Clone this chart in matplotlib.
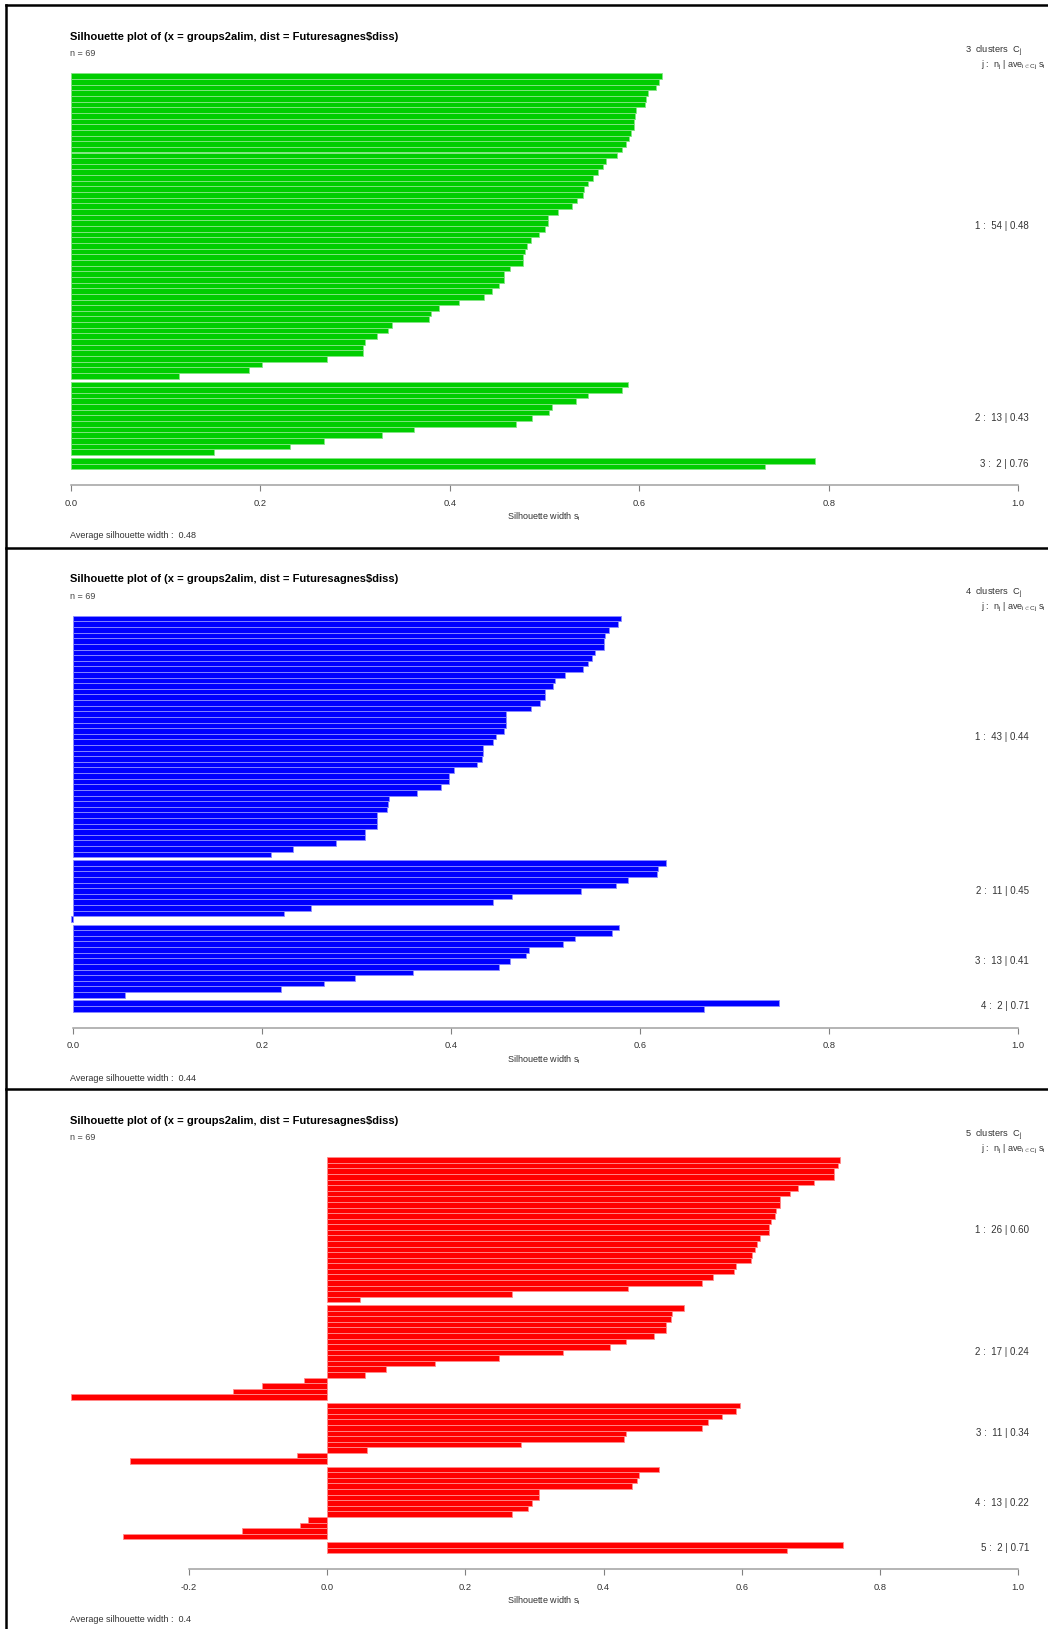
import numpy as np
import matplotlib
matplotlib.use("Agg")
import matplotlib.pyplot as plt
from matplotlib import transforms
from matplotlib.lines import Line2D

plt.rcParams['font.family'] = ['Liberation Sans', 'DejaVu Sans']
plt.rcParams['mathtext.fontset'] = 'custom'
plt.rcParams['mathtext.rm'] = 'Liberation Sans'
plt.rcParams['mathtext.it'] = 'Liberation Sans:italic'
plt.rcParams['mathtext.bf'] = 'Liberation Sans:bold'

# Silhouette widths per cluster, k = 3
k3_c1 = [0.624, 0.621, 0.618, 0.609, 0.607, 0.606, 0.597, 0.596, 0.595, 0.594,
         0.591, 0.589, 0.586, 0.582, 0.577, 0.565, 0.562, 0.556, 0.551, 0.546,
         0.542, 0.541, 0.534, 0.529, 0.514, 0.504, 0.504, 0.501, 0.494, 0.486,
         0.481, 0.479, 0.477, 0.477, 0.464, 0.457, 0.457, 0.452, 0.445, 0.436,
         0.410, 0.389, 0.380, 0.378, 0.339, 0.335, 0.323, 0.311, 0.308, 0.308,
         0.270, 0.202, 0.188, 0.114]
k3_c2 = [0.588, 0.582, 0.546, 0.533, 0.508, 0.505, 0.487, 0.470, 0.362, 0.328,
         0.267, 0.231, 0.151]
k3_c3 = [0.786, 0.733]

# k = 4
k4_c1 = [0.580, 0.577, 0.567, 0.563, 0.562, 0.562, 0.552, 0.549, 0.545, 0.540,
         0.521, 0.510, 0.508, 0.499, 0.499, 0.494, 0.485, 0.458, 0.458, 0.458,
         0.456, 0.448, 0.444, 0.434, 0.434, 0.433, 0.428, 0.403, 0.398, 0.398,
         0.390, 0.364, 0.334, 0.333, 0.332, 0.322, 0.322, 0.322, 0.309, 0.309,
         0.278, 0.233, 0.210]
k4_c2 = [0.627, 0.619, 0.618, 0.587, 0.575, 0.538, 0.465, 0.444, 0.252, 0.223,
         -0.002]
k4_c3 = [0.578, 0.570, 0.531, 0.519, 0.483, 0.479, 0.462, 0.451, 0.360, 0.299,
         0.266, 0.220, 0.055]
k4_c4 = [0.747, 0.668]

# k = 5
k5_c1 = [0.742, 0.740, 0.734, 0.733, 0.705, 0.681, 0.670, 0.656, 0.656, 0.650,
         0.648, 0.643, 0.639, 0.639, 0.626, 0.622, 0.619, 0.615, 0.614, 0.591,
         0.589, 0.559, 0.543, 0.435, 0.268, 0.047]
k5_c2 = [0.516, 0.499, 0.498, 0.490, 0.490, 0.473, 0.433, 0.409, 0.341, 0.248,
         0.156, 0.085, 0.054, -0.033, -0.094, -0.136, -0.371]
k5_c3 = [0.598, 0.591, 0.571, 0.551, 0.543, 0.433, 0.429, 0.281, 0.058, -0.044,
         -0.286]
k5_c4 = [0.480, 0.452, 0.449, 0.441, 0.307, 0.306, 0.297, 0.291, 0.267, -0.028,
         -0.040, -0.123, -0.295]
k5_c5 = [0.746, 0.666]

title = r"Silhouette plot of (x = groups2alim, dist = Futuresagnes\$diss)"

panels = [
    dict(clusters=[k3_c1, k3_c2, k3_c3], color='#00CD00', edge='#86e486', top=5.0),
    dict(clusters=[k4_c1, k4_c2, k4_c3, k4_c4], color='#0000FF', edge='#8c8cff', top=547.5),
    dict(clusters=[k5_c1, k5_c2, k5_c3, k5_c4, k5_c5], color='#FF0000', edge='#ff8c8c', top=1089.0),
]

W, H = 1048, 1629
fig = plt.figure(figsize=(W / 100, H / 100), dpi=100)
fig.patch.set_facecolor('white')

def fy(y):
    return 1 - y / H

TXT = '#333333'
NARROW = ['Liberation Sans Narrow', 'Liberation Sans', 'DejaVu Sans']

for p in panels:
    top = p['top']
    vals = [np.asarray(c, dtype=float) for c in p['clusters']]
    allv = np.concatenate(vals)
    n = len(allv)
    xmin = min(0.0, allv.min())
    span = 1.0 - xmin
    xlim = (xmin - 0.04 * span, 1.0 + 0.04 * span)

    # stacked bar positions with half-bar gaps between clusters
    pos = 0.0
    centers, mids = [], []
    for k, c in enumerate(vals):
        start = pos
        centers.append(pos + 0.5 + np.arange(len(c)))
        pos += len(c)
        mids.append((start + pos) / 2)
        if k < len(vals) - 1:
            pos += 0.5
    T = pos

    ax = fig.add_axes([33 / W, fy(top + 480), 1023 / W, (480 - 52.5) / H])
    ax.set_xlim(*xlim)
    ax.set_ylim(T + 0.04 * T, -0.04 * T)
    for c, yc in zip(vals, centers):
        ax.barh(yc, c, height=1.0, left=0, color=p['color'],
                edgecolor=p['edge'], linewidth=0.6)

    ticks = np.arange(np.ceil(xmin / 0.2 - 1e-9) * 0.2, 1.0001, 0.2)
    ticks = np.round(ticks, 1) + 0.0
    for s in ('top', 'left', 'right'):
        ax.spines[s].set_visible(False)
    ax.spines['bottom'].set_color('#a0a0a0')
    ax.spines['bottom'].set_linewidth(1.1)
    ax.spines['bottom'].set_bounds(ticks[0], ticks[-1])
    ax.set_yticks([])
    ax.set_xticks(ticks)
    ax.set_xticklabels([])
    ax.tick_params(axis='x', direction='out', length=4, width=0.8, colors='#808080')
    ax.set_facecolor('none')

    bt = transforms.blended_transform_factory(ax.transData, fig.transFigure)
    for t in ticks:
        lab = f"{abs(t):.1f}" if abs(t) < 1e-9 else f"{t:.1f}"
        fig.text(t, fy(top + 498.5), lab, transform=bt, ha='center', va='center',
                 fontsize=6.7, color=TXT, family=NARROW)

    fig.text(544 / W, fy(top + 512), r"Silhouette width s$_\mathrm{i}$", ha='center',
             va='center', fontsize=6.5, color=TXT, family=NARROW)
    avg = allv.mean()
    fig.text(69.5 / W, fy(top + 531), f"Average silhouette width :  {round(avg, 2):g}",
             ha='left', va='center', fontsize=6.5, color=TXT, family=NARROW)

    fig.text(70 / W, fy(top + 31.5), title, ha='left', va='center', fontsize=8.0,
             fontweight='bold', color='black')
    fig.text(70 / W, fy(top + 49), f"n = {n}", ha='left', va='center', fontsize=6.5,
             color='#444444')

    fig.text(965 / W, fy(top + 46), rf"{len(vals)}  clusters  C$_\mathrm{{j}}$",
             ha='left', va='center', fontsize=6.7, color=TXT)
    fig.text(1046 / W, fy(top + 60),
             r"j :  n$_\mathrm{j}$ | ave$_{\mathrm{i} \in \mathrm{Cj}}$ s$_\mathrm{i}$",
             ha='right', va='center', fontsize=6.5, color=TXT)

    rt = transforms.blended_transform_factory(fig.transFigure, ax.transData)
    for j, (c, m) in enumerate(zip(vals, mids), start=1):
        fig.text(1029 / W, m, f"{j} :  {len(c)} | {c.mean():.2f}", transform=rt,
                 ha='right', va='center', fontsize=7.0, color=TXT)

# panel frames
lw = 1.8
fig.add_artist(Line2D([6 / W, 6 / W], [0, fy(5)], color='black', lw=lw))
for yb in (5.0, 547.5, 1089.0):
    fig.add_artist(Line2D([6 / W, 1], [fy(yb), fy(yb)], color='black', lw=lw))

fig.savefig('out.png', dpi=100, facecolor='white')
